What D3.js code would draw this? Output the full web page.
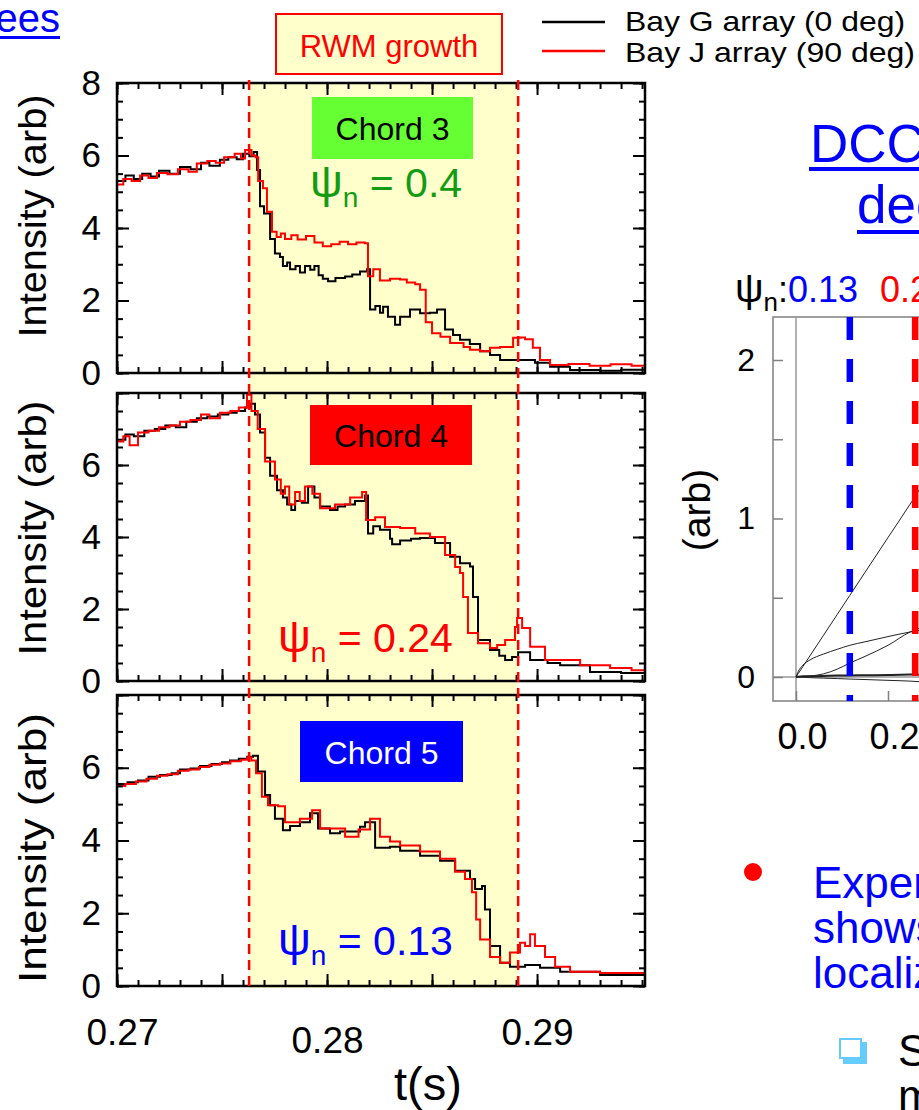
<!DOCTYPE html>
<html lang="en">
<head>
<meta charset="UTF-8">
<script src="https://d3js.org/d3.v7.min.js"></script>
<title>RWM growth - chord intensities</title>
<style>
  body { margin: 0; background: #fff; }
  svg { display: block; }
</style>
</head>
<body>
<script>
// time (s), intensity (arb)
const chord3BayG = [[0.27000,5.30],[0.27040,5.45],[0.27080,5.35],[0.27120,5.50],[0.27160,5.42],[0.27200,5.58],[0.27250,5.50],[0.27300,5.68],[0.27350,5.62],[0.27400,5.80],[0.27440,5.72],[0.27490,5.88],[0.27530,5.95],[0.27570,5.90],[0.27600,6.05],[0.27630,5.98],[0.27650,6.10],[0.27667,5.60],[0.27681,4.60],[0.27700,4.40],[0.27729,3.70],[0.27752,3.30],[0.27776,3.20],[0.27790,2.95],[0.27810,3.05],[0.27824,2.86],[0.27850,2.95],[0.27871,2.77],[0.27895,2.95],[0.27920,2.85],[0.27940,2.95],[0.27960,2.70],[0.27980,2.60],[0.28005,2.53],[0.28040,2.62],[0.28086,2.66],[0.28120,2.72],[0.28157,2.80],[0.28190,2.86],[0.28205,1.75],[0.28230,1.85],[0.28252,1.66],[0.28267,1.83],[0.28290,1.55],[0.28324,1.33],[0.28348,1.55],[0.28395,1.75],[0.28443,1.65],[0.28490,1.66],[0.28524,1.75],[0.28562,1.20],[0.28600,1.05],[0.28633,0.92],[0.28680,0.80],[0.28729,0.60],[0.28776,0.50],[0.28824,0.36],[0.28919,0.36],[0.28990,0.28],[0.29062,0.17],[0.29157,0.08],[0.29300,0.06],[0.29400,0.09],[0.29514,0.08]];
const chord3BayJ = [[0.27000,5.20],[0.27030,5.35],[0.27070,5.30],[0.27110,5.45],[0.27150,5.38],[0.27190,5.52],[0.27240,5.48],[0.27290,5.62],[0.27340,5.55],[0.27380,5.78],[0.27430,5.85],[0.27470,5.80],[0.27510,5.95],[0.27560,6.05],[0.27590,5.92],[0.27610,6.15],[0.27640,6.00],[0.27660,5.95],[0.27672,5.30],[0.27695,5.10],[0.27714,4.45],[0.27738,3.90],[0.27760,3.75],[0.27780,3.85],[0.27800,3.70],[0.27830,3.80],[0.27860,3.68],[0.27900,3.78],[0.27940,3.60],[0.27980,3.50],[0.28020,3.55],[0.28060,3.62],[0.28100,3.55],[0.28140,3.60],[0.28180,3.58],[0.28195,2.67],[0.28220,2.86],[0.28252,2.55],[0.28300,2.60],[0.28348,2.58],[0.28380,2.50],[0.28420,2.45],[0.28443,2.30],[0.28470,1.40],[0.28500,1.10],[0.28540,1.00],[0.28586,0.83],[0.28650,0.72],[0.28681,0.64],[0.28729,0.60],[0.28776,0.70],[0.28824,0.72],[0.28886,0.97],[0.28920,0.98],[0.28943,0.93],[0.28980,0.70],[0.29014,0.36],[0.29062,0.22],[0.29150,0.25],[0.29250,0.20],[0.29350,0.24],[0.29450,0.20],[0.29514,0.24]];
const chord4BayG = [[0.27000,6.70],[0.27040,6.85],[0.27080,6.80],[0.27130,6.95],[0.27180,7.00],[0.27230,7.10],[0.27280,7.05],[0.27330,7.20],[0.27380,7.30],[0.27430,7.35],[0.27480,7.40],[0.27530,7.45],[0.27570,7.50],[0.27610,7.60],[0.27633,7.70],[0.27657,7.40],[0.27681,6.90],[0.27705,6.20],[0.27729,5.70],[0.27762,5.30],[0.27790,5.10],[0.27810,4.90],[0.27830,4.75],[0.27848,5.00],[0.27880,4.95],[0.27910,5.40],[0.27940,5.10],[0.27967,4.85],[0.28014,4.75],[0.28050,4.85],[0.28086,4.90],[0.28133,5.00],[0.28181,5.15],[0.28195,4.10],[0.28220,4.30],[0.28252,4.20],[0.28300,3.95],[0.28310,3.80],[0.28348,3.90],[0.28400,3.95],[0.28443,3.97],[0.28514,3.83],[0.28586,3.45],[0.28633,3.27],[0.28681,3.18],[0.28695,2.33],[0.28719,1.14],[0.28776,0.86],[0.28820,0.70],[0.28848,0.58],[0.28881,0.67],[0.28910,0.80],[0.28967,0.58],[0.29050,0.50],[0.29110,0.44],[0.29252,0.25],[0.29400,0.22],[0.29514,0.22]];
const chord4BayJ = [[0.27000,6.65],[0.27030,6.80],[0.27060,6.55],[0.27100,6.90],[0.27150,6.95],[0.27200,7.05],[0.27250,7.10],[0.27300,7.20],[0.27350,7.25],[0.27400,7.40],[0.27440,7.30],[0.27490,7.45],[0.27540,7.50],[0.27580,7.60],[0.27619,7.95],[0.27640,7.50],[0.27670,7.00],[0.27705,6.10],[0.27752,5.60],[0.27780,5.20],[0.27800,5.40],[0.27820,4.90],[0.27848,5.25],[0.27870,5.00],[0.27895,5.40],[0.27930,5.20],[0.27967,4.80],[0.28038,4.90],[0.28110,5.10],[0.28167,5.25],[0.28186,4.47],[0.28229,4.55],[0.28276,4.28],[0.28348,4.25],[0.28420,4.10],[0.28490,4.00],[0.28562,3.50],[0.28610,3.17],[0.28633,3.00],[0.28648,2.33],[0.28671,1.33],[0.28719,1.05],[0.28776,0.92],[0.28810,1.00],[0.28848,1.14],[0.28895,1.50],[0.28905,1.75],[0.28929,1.47],[0.28967,0.95],[0.29038,0.58],[0.29205,0.44],[0.29348,0.36],[0.29450,0.30],[0.29514,0.22]];
const chord5BayG = [[0.27000,5.55],[0.27050,5.60],[0.27100,5.65],[0.27150,5.75],[0.27205,5.80],[0.27260,5.85],[0.27300,5.95],[0.27350,5.98],[0.27395,6.05],[0.27450,6.10],[0.27500,6.15],[0.27538,6.20],[0.27580,6.25],[0.27620,6.30],[0.27648,6.33],[0.27671,5.90],[0.27705,5.25],[0.27729,4.97],[0.27752,4.60],[0.27790,4.28],[0.27824,4.40],[0.27871,4.50],[0.27919,4.75],[0.27957,4.33],[0.28014,4.20],[0.28062,4.25],[0.28157,4.38],[0.28181,4.50],[0.28229,3.80],[0.28300,3.83],[0.28348,3.72],[0.28443,3.58],[0.28538,3.44],[0.28610,3.17],[0.28681,2.94],[0.28705,2.67],[0.28738,2.75],[0.28752,2.10],[0.28776,1.10],[0.28824,0.64],[0.28871,0.53],[0.28943,0.58],[0.29014,0.50],[0.29110,0.39],[0.29300,0.30],[0.29514,0.17]];
const chord5BayJ = [[0.27000,5.50],[0.27040,5.55],[0.27090,5.62],[0.27140,5.70],[0.27190,5.78],[0.27240,5.82],[0.27290,5.92],[0.27340,5.95],[0.27390,6.02],[0.27440,6.08],[0.27490,6.12],[0.27540,6.18],[0.27590,6.22],[0.27619,6.28],[0.27640,6.20],[0.27662,5.85],[0.27690,5.20],[0.27719,4.97],[0.27767,4.94],[0.27800,4.50],[0.27871,4.60],[0.27929,4.83],[0.27967,4.33],[0.28086,4.10],[0.28150,4.30],[0.28205,4.60],[0.28252,4.10],[0.28300,3.97],[0.28348,3.86],[0.28443,3.70],[0.28538,3.50],[0.28610,3.14],[0.28657,2.94],[0.28690,2.58],[0.28710,1.83],[0.28729,1.28],[0.28776,0.80],[0.28824,0.64],[0.28871,0.92],[0.28919,1.19],[0.28943,1.10],[0.28967,1.42],[0.28990,1.10],[0.29038,0.80],[0.29086,0.53],[0.29157,0.39],[0.29300,0.36],[0.29514,0.22]];

const rwmWindow = [0.27629, 0.28910];
const xTickLabels = [0.27, 0.28, 0.29];
const yTickLabels = [0, 2, 4, 6, 8];
const chordNames = ["Chord 3", "Chord 4", "Chord 5"];
const chordPsi = ["0.4", "0.24", "0.13"];
const legendLabels = ["Bay G array (0 deg)", "Bay J array (90 deg)"];

// right-hand model plot: psi_n vs displacement (arb)
const modelPsi = [0, 0.005, 0.015, 0.03, 0.06, 0.09, 0.117, 0.15, 0.2, 0.248, 0.27];
const modelLineA = [0, 0.022, 0.066, 0.132, 0.264, 0.396, 0.515, 0.66, 0.88, 1.09, 1.19];
const modelArc = [0, 0.035, 0.075, 0.107, 0.145, 0.175, 0.2, 0.222, 0.255, 0.284, 0.295];
const modelLower = [0, 0.001, 0.003, 0.006, 0.02, 0.05, 0.088, 0.13, 0.2, 0.284, 0.31];
const modelFlatUp = [0, 0.002, 0.004, 0.005, 0.007, 0.009, 0.01, 0.011, 0.013, 0.015, 0.016];
const modelFlatDown = [0, -0.001, -0.002, -0.004, -0.007, -0.01, -0.013, -0.016, -0.021, -0.026, -0.03];
const chordPsiMarks = [0.117, 0.259];

const font = "Arial, 'Liberation Sans', sans-serif";
const svg = d3.select("body").append("svg")
    .attr("width", 919)
    .attr("height", 1110)
    .style("font-family", font);

const x = d3.scaleLinear().domain([0.27, 0.29514]).range([117, 645]);

const panels = [
  { top: 83, bottom: 373, g: chord3BayG, j: chord3BayJ, labels: [0,2,4,6,8],
    box: [312, 97, 161, 62], boxFill: "#66ff33", boxText: "#000",
    psiX: 310, psiY: 197, psiColor: "#139b13", titleC: 216, titleL: 243 },
  { top: 393, bottom: 681, g: chord4BayG, j: chord4BayJ, labels: [0,2,4,6],
    box: [310, 405, 162, 60], boxFill: "#ff0000", boxText: "#000",
    psiX: 278, psiY: 652, psiColor: "#ff0000", titleC: 528, titleL: 255 },
  { top: 695, bottom: 986, g: chord5BayG, j: chord5BayJ, labels: [0,2,4,6],
    box: [300, 721, 163, 61], boxFill: "#0000ff", boxText: "#fff",
    psiX: 278, psiY: 955, psiColor: "#0000ff", titleC: 848, titleL: 270 }
];

// yellow RWM band behind all three panels
svg.append("rect")
    .attr("x", x(rwmWindow[0]))
    .attr("y", 82)
    .attr("width", x(rwmWindow[1]) - x(rwmWindow[0]))
    .attr("height", 906)
    .attr("fill", "#ffffcc");

const xMinor = d3.range(0.27, 0.2952, 0.001);
const xMajor = [0.27, 0.275, 0.28, 0.285, 0.29];
const yMinor = d3.range(0, 8.01, 0.5);

function styleTicks(sel) {
  sel.select(".domain").remove();
  sel.selectAll(".tick line").attr("stroke", "#000").attr("stroke-width", 2);
}

panels.forEach((p, i) => {
  const y = d3.scaleLinear().domain([0, 8]).range([p.bottom, p.top]);
  const g = svg.append("g");

  const line = d3.line()
      .curve(d3.curveStepAfter)
      .x(d => x(d[0]))
      .y(d => y(d[1]));

  g.append("path").datum(p.g)
      .attr("d", line).attr("fill", "none")
      .attr("stroke", "#000").attr("stroke-width", 2);
  g.append("path").datum(p.j)
      .attr("d", line).attr("fill", "none")
      .attr("stroke", "#ff0000").attr("stroke-width", 2);

  g.append("rect")
      .attr("x", 117).attr("y", p.top)
      .attr("width", 645 - 117).attr("height", p.bottom - p.top)
      .attr("fill", "none").attr("stroke", "#000").attr("stroke-width", 2.5);

  // inward ticks on all four sides
  g.append("g").attr("transform", "translate(117,0)")
      .call(d3.axisLeft(y).tickValues(yMinor).tickSize(-6).tickFormat("")).call(styleTicks);
  g.append("g").attr("transform", "translate(645,0)")
      .call(d3.axisRight(y).tickValues(yMinor).tickSize(-6).tickFormat("")).call(styleTicks);
  g.append("g").attr("transform", "translate(645,0)")
      .call(d3.axisRight(y).tickValues(yTickLabels).tickSize(-12).tickFormat("")).call(styleTicks);
  g.append("g").attr("transform", `translate(0,${p.top})`)
      .call(d3.axisTop(x).tickValues(xMinor).tickSize(-6).tickFormat("")).call(styleTicks);
  g.append("g").attr("transform", `translate(0,${p.top})`)
      .call(d3.axisTop(x).tickValues(xMajor).tickSize(-12).tickFormat("")).call(styleTicks);
  g.append("g").attr("transform", `translate(0,${p.bottom})`)
      .call(d3.axisBottom(x).tickValues(xMinor).tickSize(-6).tickFormat("")).call(styleTicks);
  g.append("g").attr("transform", `translate(0,${p.bottom})`)
      .call(d3.axisBottom(x).tickValues(xMajor).tickSize(-12).tickFormat("")).call(styleTicks);

  const yAxis = g.append("g").attr("transform", "translate(117,0)")
      .call(d3.axisLeft(y).tickValues(yTickLabels).tickSize(-12).tickPadding(16).tickFormat(d3.format("d")))
      .call(styleTicks);
  yAxis.selectAll(".tick text")
      .attr("font-size", 35).attr("font-family", font).attr("fill", "#000")
      .filter(d => !p.labels.includes(d)).remove();

  // y title
  g.append("text")
      .attr("transform", `translate(46,${p.titleC}) rotate(-90)`)
      .attr("text-anchor", "middle")
      .attr("font-size", 39)
      .attr("textLength", p.titleL)
      .attr("lengthAdjust", "spacingAndGlyphs")
      .text("Intensity (arb)");

  // chord label box
  g.append("rect")
      .attr("x", p.box[0]).attr("y", p.box[1])
      .attr("width", p.box[2]).attr("height", p.box[3])
      .attr("fill", p.boxFill);
  g.append("text")
      .attr("x", p.box[0] + p.box[2] / 2)
      .attr("y", p.box[1] + p.box[3] / 2 + 12)
      .attr("text-anchor", "middle")
      .attr("font-size", 32)
      .attr("fill", p.boxText)
      .text(chordNames[i]);

  const psi = g.append("text")
      .attr("x", p.psiX).attr("y", p.psiY)
      .attr("font-size", 41)
      .attr("fill", p.psiColor);
  psi.append("tspan").attr("font-size", 46).text("ψ");
  psi.append("tspan").attr("font-size", 28).attr("dy", 10).text("n");
  psi.append("tspan").attr("dy", -10).text(" = " + chordPsi[i]);

  if (i === 2) {
    const xAxis = g.append("g").attr("transform", `translate(0,${p.bottom})`)
        .call(d3.axisBottom(x).tickValues(xTickLabels).tickSize(0).tickPadding(33).tickFormat(d3.format(".2f")))
        .call(styleTicks);
    xAxis.selectAll(".tick text")
        .attr("font-size", 37).attr("font-family", font).attr("fill", "#000")
        .attr("dx", d => d === 0.27 ? 5 : 0)
        .attr("y", d => d === 0.28 ? 41 : 33);
  }
});

// RWM window boundaries
rwmWindow.forEach(t => {
  svg.append("line")
      .attr("x1", x(t)).attr("x2", x(t))
      .attr("y1", 80).attr("y2", 990)
      .attr("stroke", "#ff0000")
      .attr("stroke-width", 2.5)
      .attr("stroke-dasharray", "10,6");
});

svg.append("text")
    .attr("x", 428).attr("y", 1100)
    .attr("text-anchor", "middle")
    .attr("font-size", 47)
    .text("t(s)");

// RWM growth box
svg.append("rect")
    .attr("x", 276).attr("y", 14).attr("width", 226).attr("height", 60)
    .attr("fill", "#ffffcc").attr("stroke", "#ff0000").attr("stroke-width", 2);
svg.append("text")
    .attr("x", 389).attr("y", 57)
    .attr("text-anchor", "middle")
    .attr("font-size", 31)
    .attr("fill", "#ff0000")
    .text("RWM growth");

// legend
const legendColors = ["#000", "#ff0000"];
const legendWidths = [280, 290];
legendLabels.forEach((label, k) => {
  svg.append("line")
      .attr("x1", 542).attr("x2", 605)
      .attr("y1", 22 + k * 29).attr("y2", 22 + k * 29)
      .attr("stroke", legendColors[k]).attr("stroke-width", 2.5);
  svg.append("text")
      .attr("x", 625).attr("y", 31 + k * 31)
      .attr("font-size", 28)
      .attr("textLength", legendWidths[k])
      .attr("lengthAdjust", "spacingAndGlyphs")
      .text(label);
});

// cut-off slide heading at top-left
svg.append("text")
    .attr("x", 60).attr("y", 32)
    .attr("text-anchor", "end")
    .attr("font-size", 40)
    .attr("fill", "#0000ff")
    .text("ees");
svg.append("rect").attr("x", 0).attr("y", 36).attr("width", 60).attr("height", 3).attr("fill", "#0000ff");

// right-hand heading
svg.append("text").attr("x", 810).attr("y", 162).attr("font-size", 53).attr("fill", "#0000ff").text("DCC");
svg.append("rect").attr("x", 809).attr("y", 167).attr("width", 110).attr("height", 4).attr("fill", "#0000ff");
svg.append("text").attr("x", 857).attr("y", 223).attr("font-size", 53).attr("fill", "#0000ff").text("dec");
svg.append("rect").attr("x", 857).attr("y", 230).attr("width", 62).attr("height", 4).attr("fill", "#0000ff");

// right-hand model plot
const xr = d3.scaleLinear().domain([0, 0.2]).range([796, 888]);
const yr = d3.scaleLinear().domain([0, 2]).range([677, 360]);
const rg = svg.append("g");

rg.append("rect")
    .attr("x", 773).attr("y", 317).attr("width", 160).attr("height", 384)
    .attr("fill", "#fff").attr("stroke", "#808080").attr("stroke-width", 1.5);
rg.append("line").attr("x1", xr(0)).attr("x2", xr(0)).attr("y1", 317).attr("y2", 701)
    .attr("stroke", "#999").attr("stroke-width", 1.5);
rg.append("line").attr("x1", 773).attr("x2", 919).attr("y1", yr(0)).attr("y2", yr(0))
    .attr("stroke", "#999").attr("stroke-width", 1.5);

const yrAxis = rg.append("g").attr("transform", "translate(773,0)")
    .call(d3.axisLeft(yr).tickValues([0, 0.5, 1, 1.5, 2]).tickSize(-10).tickPadding(18)
      .tickFormat(d => Number.isInteger(d) ? d : ""));
yrAxis.select(".domain").remove();
yrAxis.selectAll(".tick line").attr("stroke", "#808080").attr("stroke-width", 1.5);
yrAxis.selectAll(".tick text").attr("font-size", 32).attr("font-family", font).attr("fill", "#000");

const xrAxis = rg.append("g").attr("transform", "translate(0,701)")
    .call(d3.axisBottom(xr).tickValues([0, 0.2]).tickSize(-10).tickPadding(22).tickFormat(d3.format(".1f")));
xrAxis.select(".domain").remove();
xrAxis.selectAll(".tick line").attr("stroke", "#808080").attr("stroke-width", 1.5);
xrAxis.selectAll(".tick text").attr("font-size", 36).attr("font-family", font).attr("fill", "#000").attr("dx", 6);

const modelLine = d3.line().x((d, k) => xr(modelPsi[k])).y(d => yr(d)).curve(d3.curveMonotoneX);
[modelLineA, modelArc, modelLower, modelFlatUp, modelFlatDown].forEach((vals, k) => {
  rg.append("path")
      .attr("d", modelLine(vals))
      .attr("fill", "none")
      .attr("stroke", "#222")
      .attr("stroke-width", k === 3 ? 2 : 1);
});

const psiMarkColors = ["#0000ff", "#ff0000"];
chordPsiMarks.forEach((v, k) => {
  rg.append("line")
      .attr("x1", xr(v)).attr("x2", xr(v))
      .attr("y1", 317).attr("y2", 701)
      .attr("stroke", psiMarkColors[k])
      .attr("stroke-width", 6.5)
      .attr("stroke-dasharray", "23,19");
});

rg.append("text")
    .attr("transform", "translate(710,510) rotate(-90)")
    .attr("text-anchor", "middle")
    .attr("font-size", 39)
    .text("(arb)");

const psiHead = rg.append("text").attr("x", 735).attr("y", 302).attr("font-size", 36);
psiHead.append("tspan").attr("font-size", 40).text("ψ");
psiHead.append("tspan").attr("font-size", 26).attr("dy", 9).text("n");
psiHead.append("tspan").attr("dy", -9).text(":");
psiHead.append("tspan").attr("fill", "#0000ff").text(chordPsi[2]);
psiHead.append("tspan").attr("fill", "#ff0000").attr("x", 880).text(chordPsi[1]);

// bullet text at lower right
svg.append("circle").attr("cx", 753).attr("cy", 872).attr("r", 9).attr("fill", "#ff0000");
["Experiments", "shows", "localized"].forEach((s, k) => {
  svg.append("text")
      .attr("x", 813).attr("y", 898 + k * 45)
      .attr("font-size", 44)
      .attr("fill", "#0000ff")
      .text(s);
});
svg.append("rect").attr("x", 843).attr("y", 1042).attr("width", 24).attr("height", 22).attr("fill", "#66ccff");
svg.append("rect").attr("x", 840).attr("y", 1039).attr("width", 21).attr("height", 19)
    .attr("fill", "#fff").attr("stroke", "#66ccff").attr("stroke-width", 2);
svg.append("text").attr("x", 898).attr("y", 1066).attr("font-size", 44).text("S");
svg.append("text").attr("x", 898).attr("y", 1111).attr("font-size", 44).text("m");
</script>
</body>
</html>
